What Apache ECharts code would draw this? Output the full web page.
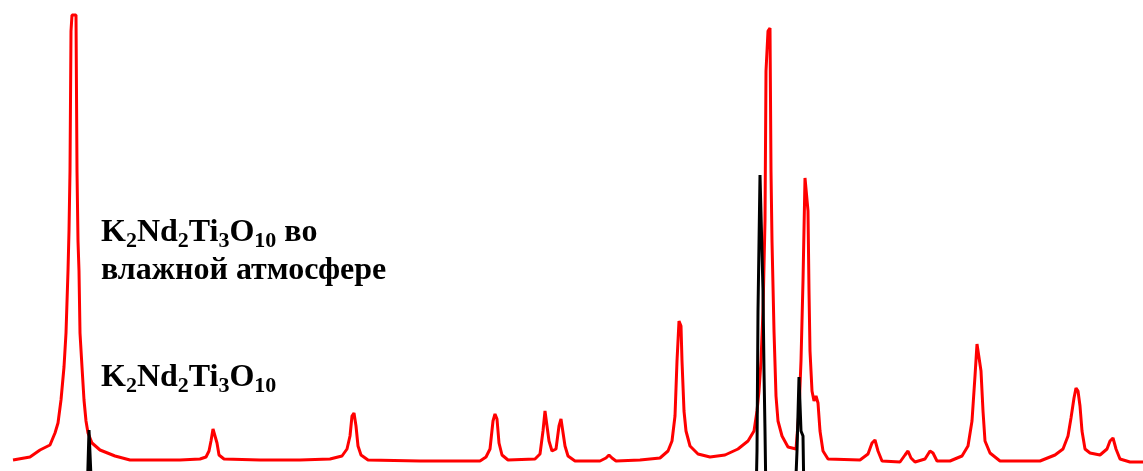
<!DOCTYPE html>
<html>
<head>
<meta charset="utf-8">
<script src="https://cdn.jsdelivr.net/npm/echarts@6/dist/echarts.min.js"></script>
<style>
  html, body { margin: 0; padding: 0; background: #fff; }
  #main { width: 1143px; height: 471px; }
</style>
</head>
<body>
<div id="main"></div>
<script>
// diffraction pattern, x in scan channels, y in counts (arbitrary units)
var humidX = [13, 30, 40, 50, 55, 58, 61, 64, 66, 68, 69, 70, 71, 72, 76, 77, 78, 79, 80, 82, 84, 86, 88, 92, 100, 115, 130,
    180, 200, 206, 209, 211, 213, 215, 217, 219, 224, 260, 300, 330, 342, 347, 350, 352, 354, 356, 358, 361, 368,
    420, 480, 486, 490, 493, 495, 497, 499, 502, 508, 535, 540, 543, 545, 547, 549, 552, 556, 559, 561, 563, 565, 568, 575,
    600, 606, 609, 612, 616, 640, 660, 668, 672, 675, 677, 679, 681, 682, 684, 686, 690, 698, 710, 725, 738, 748, 754, 757,
    759, 761, 763, 765, 766, 767, 768, 770, 771, 772, 774, 776, 778, 782, 788, 796, 799, 801, 803, 805, 807, 808, 809, 810,
    812, 814, 816, 818, 820, 823, 828, 860, 868, 872, 875, 878, 882, 900, 905, 908, 911, 915, 925, 930, 933, 937, 950, 962,
    968, 972, 975, 977, 979, 981, 983, 985, 990, 1000, 1040, 1055, 1063, 1068, 1071, 1074, 1076, 1078, 1080, 1082, 1085,
    1090, 1100, 1107, 1110, 1113, 1116, 1120, 1130, 1143];
var humidY = [11, 14, 21, 26, 38, 48, 71, 104, 138, 200, 240, 300, 440, 456, 456, 300, 230, 200, 138, 104, 71, 50, 38, 28, 21, 15, 11,
    11, 12, 14, 20, 30, 42, 40, 28, 16, 12, 11, 11, 12, 15, 22, 35, 55, 58, 45, 25, 16, 11,
    10, 10, 14, 22, 50, 57, 52, 28, 16, 11, 12, 17, 40, 60, 58, 30, 20, 22, 45, 52, 50, 25, 15, 10,
    10, 13, 16, 13, 10, 11, 13, 20, 30, 55, 110, 150, 145, 110, 60, 40, 25, 17, 14, 16, 22, 30, 40, 60,
    80, 110, 160, 250, 400, 420, 440, 443, 300, 230, 140, 75, 50, 35, 24, 22, 60, 110, 190, 293, 295, 260, 180, 120,
    80, 70, 75, 68, 40, 20, 12, 11, 17, 28, 31, 20, 10, 9, 16, 20, 13, 9, 12, 20, 18, 10, 10, 15,
    25, 50, 95, 127, 128, 100, 60, 30, 18, 10, 10, 16, 22, 35, 53, 73, 83, 80, 65, 40, 22,
    18, 16, 22, 30, 33, 22, 12, 9, 9];

var dryX = [0, 87, 89, 91, 92, 750, 756, 757, 758, 760, 762, 763, 764, 765, 766, 795, 797, 799, 800, 801, 803, 804, 1143];
var dryY = [-30, -30, 41, 41, -30, -30, -30, 20, 160, 296, 296, 180, 100, 40, -30, -30, 20, 94, 94, 40, 35, -30, -30];

function pairs(xs, ys) {
    return xs.map(function (x, i) { return [x, ys[i]]; });
}

var myChart = echarts.init(document.getElementById('main'));

var fontMain = { fontFamily: 'Liberation Serif', fontWeight: 'bold', fontSize: 32, lineHeight: 38, fill: '#000' };
var fontSub = { fontFamily: 'Liberation Serif', fontWeight: 'bold', fontSize: 22, lineHeight: 22, verticalAlign: 'bottom', fill: '#000' };
var formula = '{m|K}{s|2}{m|Nd}{s|2}{m|Ti}{s|3}{m|O}{s|10}';

var option = {
    animation: false,
    backgroundColor: '#fff',
    grid: { left: 0, right: 0, top: 0, bottom: 0 },
    xAxis: { type: 'value', min: 0, max: 1143, show: false },
    yAxis: { type: 'value', min: 0, max: 471, show: false },
    series: [{
        name: 'K2Nd2Ti3O10 во влажной атмосфере',
        type: 'line',
        data: pairs(humidX, humidY),
        showSymbol: false,
        z: 2,
        lineStyle: { color: '#ff0000', width: 3 }
    }, {
        name: 'K2Nd2Ti3O10',
        type: 'line',
        data: pairs(dryX, dryY),
        showSymbol: false,
        z: 3,
        lineStyle: { color: '#000', width: 3 }
    }],
    graphic: [{
        type: 'text',
        left: 101,
        top: 217,
        style: {
            text: formula + '{m| во}\n{m|влажной атмосфере}',
            rich: { m: fontMain, s: fontSub }
        }
    }, {
        type: 'text',
        left: 101,
        top: 362,
        style: {
            text: formula,
            rich: { m: fontMain, s: fontSub }
        }
    }]
};
myChart.setOption(option);
</script>
</body>
</html>
